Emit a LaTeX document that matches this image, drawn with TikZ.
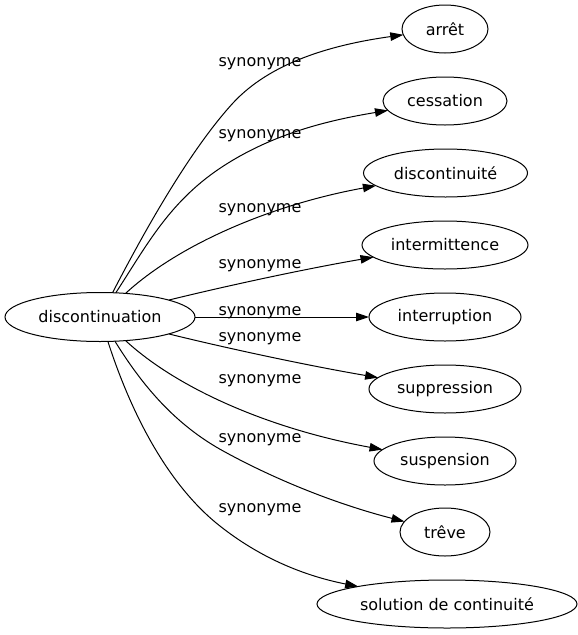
\documentclass[tikz,border=0pt]{standalone}
\usepackage{fontspec}
\setmainfont{DejaVu Sans}
\usetikzlibrary{shapes.geometric,arrows.meta}
\tikzset{
  term/.style={ellipse, draw, line width=1pt, inner sep=0pt, outer sep=0pt,
    minimum height=48pt, font=\fontsize{16}{19}\selectfont},
  lbl/.style={anchor=base, inner sep=0pt, font=\fontsize{16}{19}\selectfont},
  edge/.style={draw, line width=1pt, -{Triangle[length=13pt,width=8.5pt]}}
}
\begin{document}
\begin{tikzpicture}[x=1pt,y=-1pt]
\useasboundingbox[fill=white] (0,0) rectangle (578,635);
\node[term, minimum width=190pt, minimum height=49pt] (src) at (100,317) {discontinuation};
\node[term, minimum width=86pt] (arret) at (445,29) {arrêt};
\node[term, minimum width=124pt] (cess) at (445,101) {cessation};
\node[term, minimum width=164pt] (disc) at (445.5,173) {discontinuité};
\node[term, minimum width=166pt] (inter) at (445,245) {intermittence};
\node[term, minimum width=152pt] (interr) at (445,317) {interruption};
\node[term, minimum width=152pt] (supp) at (445,389) {suppression};
\node[term, minimum width=142pt] (susp) at (445,461) {suspension};
\node[term, minimum width=90pt] (treve) at (445,532) {trêve};
\node[term, minimum width=260pt] (sol) at (447,604) {solution de continuité};

\coordinate (m1) at (233,103);
\coordinate (m2) at (225,165);
\coordinate (m8) at (225,452);
\coordinate (m9) at (215,522);

\draw[edge] (src) .. controls (145,230) and (190,150) .. (m1) .. controls (270,63) and (330,45) .. (arret);
\draw[edge] (src) .. controls (147,245) and (170,200) .. (m2) .. controls (275,133) and (330,120) .. (cess);
\draw[edge] (src) .. controls (178,245) and (270,205) .. (disc);
\draw[edge] (src) .. controls (230,285) and (310,268) .. (inter);
\draw[edge] (src) -- (interr);
\draw[edge] (src) .. controls (230,349) and (310,366) .. (supp);
\draw[edge] (src) .. controls (178,389) and (270,429) .. (susp);
\draw[edge] (src) .. controls (142,385) and (175,425) .. (m8) .. controls (280,482) and (340,505) .. (treve);
\draw[edge] (src) .. controls (130,410) and (165,480) .. (m9) .. controls (255,555) and (300,575) .. (sol);

\node[lbl] (l1) at (260,66) {synonyme};
\node[lbl] (l2) at (260,138) {synonyme};
\node[lbl] (l3) at (260,212.5) {synonyme};
\node[lbl] (l4) at (260,268) {synonyme};
\node[lbl] (l5) at (260,315) {synonyme};
\node[lbl] (l6) at (260,341.5) {synonyme};
\node[lbl] (l7) at (260,383) {synonyme};
\node[lbl] (l8) at (260,442) {synonyme};
\node[lbl] (l9) at (260,512) {synonyme};
\end{tikzpicture}
\end{document}
